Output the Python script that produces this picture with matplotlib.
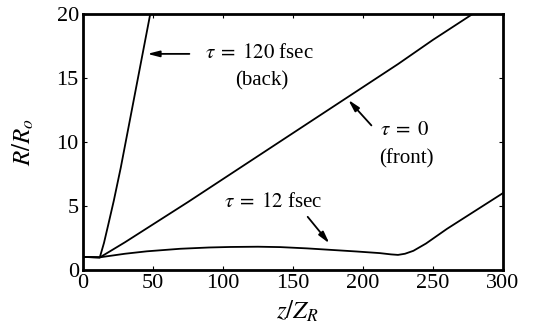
import matplotlib.pyplot as plt

plt.rcParams['font.family'] = ['Liberation Serif', 'DejaVu Serif']
plt.rcParams['mathtext.fontset'] = 'stix'

# beam radius R/Ro along the propagation distance z/ZR for three pulse slices
z_back = [0, 12, 15, 18, 22, 27, 34, 41, 48]
R_back = [1.0, 0.96, 2.1, 3.5, 5.4, 8.0, 12.0, 16.0, 20.0]

z_front = [0, 12, 30, 50, 75, 100, 125, 150, 175, 200, 225, 250, 278]
R_front = [1.0, 0.96, 2.15, 3.55, 5.3, 7.1, 8.9, 10.7, 12.5, 14.3, 16.1,
           18.0, 20.0]

z_mid = [0, 12, 30, 45.6, 69.5, 90, 105, 125, 141, 160, 176, 195, 212,
         220, 225, 230, 236, 245, 260, 280, 300]
R_mid = [1.0, 0.97, 1.25, 1.44, 1.64, 1.74, 1.78, 1.80, 1.77, 1.67, 1.56,
         1.43, 1.30, 1.20, 1.16, 1.25, 1.48, 2.05, 3.2, 4.6, 6.0]

x_ticks = [0, 50, 100, 150, 200, 250, 300]
y_ticks = [0, 5, 10, 15, 20]

fig = plt.figure(figsize=(5.33, 3.3), dpi=100)
ax = fig.add_axes([0.1557, 0.1827, 0.7880, 0.7740])

for z, R in [(z_back, R_back), (z_front, R_front), (z_mid, R_mid)]:
    ax.plot(z, R, color='black', lw=1.3, solid_joinstyle='round')

ax.set_xlim(0, 300)
ax.set_ylim(0, 20)
ax.set_xticks(x_ticks)
ax.set_yticks(y_ticks)
ax.tick_params(direction='in', length=3, width=0.8, top=True, right=True,
               labelsize=16, pad=3)
for s in ax.spines.values():
    s.set_linewidth(2.0)

ax.set_xlabel(r'$z/Z_R$', fontsize=18)
ax.set_ylabel(r'$R/R_o$', fontsize=18)
ax.xaxis.set_label_coords(0.51, -0.115)
ax.yaxis.set_label_coords(-0.112, 0.5)

arrow = dict(arrowstyle='-|>,head_length=0.7,head_width=0.18', color='black',
             lw=1.3, shrinkA=0, shrinkB=0)

# back of the pulse
ax.annotate('', xy=(46, 16.9), xytext=(76, 16.9), arrowprops=arrow)
ax.text(126, 16.9, r'$\tau\;=\;120$ fsec', fontsize=15, ha='center', va='center')
ax.text(128, 14.8, '(back)', fontsize=15, ha='center', va='center')

# front of the pulse
ax.annotate('', xy=(189.5, 13.3), xytext=(206, 11.3), arrowprops=arrow)
ax.text(230, 10.9, r'$\tau\;=\;0$', fontsize=15, ha='center', va='center')
ax.text(231, 8.7, '(front)', fontsize=15, ha='center', va='center')

# middle slice
ax.annotate('', xy=(176, 2.06), xytext=(160.5, 4.14), arrowprops=arrow)
ax.text(136, 5.3, r'$\tau\;=\;12$ fsec', fontsize=15, ha='center', va='center')

plt.savefig('out.png', dpi=100)
